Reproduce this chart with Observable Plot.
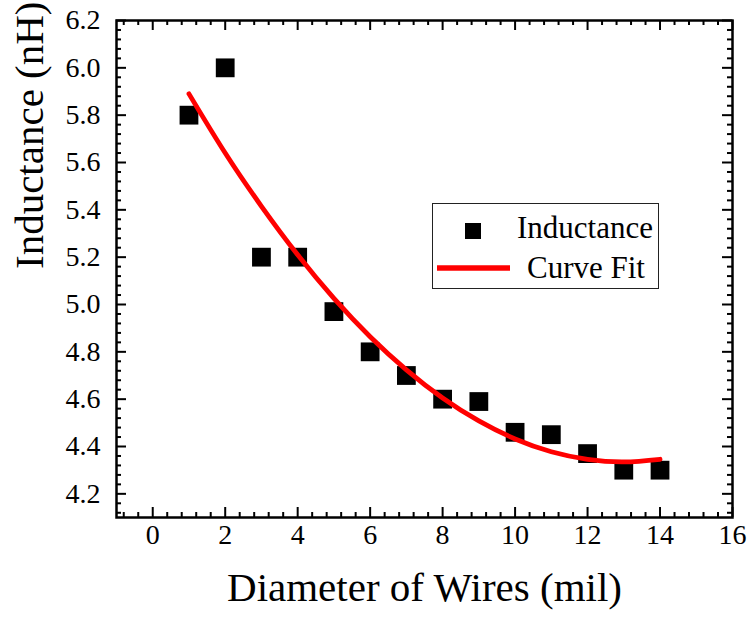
<!DOCTYPE html>
<html><head><meta charset="utf-8">
<script src="https://cdn.jsdelivr.net/npm/d3@7"></script>
<script src="https://cdn.jsdelivr.net/npm/@observablehq/plot@0.6"></script>
</head>
<body style="margin:0;background:#fff">
<div id="wrap" style="position:relative;width:750px;height:622px"></div>
<script>
const diameter = [1,2,3,4,5,6,7,8,9,10,11,12,13,14];
const inductance = [5.80,6.00,5.20,5.20,4.97,4.80,4.70,4.60,4.59,4.46,4.45,4.37,4.30,4.30];
const fitX = [1,2,3,4,5,6,7,8,9,10,11,12,13,14];
const fitY = [5.89,5.64,5.415,5.21,5.026,4.864,4.724,4.605,4.508,4.432,4.378,4.346,4.335,4.346];
const xTickLabels = [0,2,4,6,8,10,12,14,16];
const yTickLabels = [4.2,4.4,4.6,4.8,5.0,5.2,5.4,5.6,5.8,6.0,6.2];

const points = diameter.map((d,i)=>({x:d,y:inductance[i]}));
const fit = fitX.map((d,i)=>({x:d,y:fitY[i]}));

const W=750,H=622,mL=116,mR=18,mT=20,mB=105;
const iw=W-mL-mR, ih=H-mT-mB;
const xMinor = d3.range(-0.8,16.01,0.4).map(v=>+v.toFixed(2)).filter(v=>Math.abs(v/2-Math.round(v/2))>1e-6);
const yMinor = d3.range(4.12,6.201,0.04).map(v=>+v.toFixed(2)).filter(v=>Math.abs(v/0.2-Math.round(v/0.2))>1e-6);
const fs = 28;
const ff = "Liberation Serif";

const chart = Plot.plot({
  width:W,height:H,marginLeft:mL,marginRight:mR,marginTop:mT,marginBottom:mB,
  x:{domain:[-1,16],axis:null},
  y:{domain:[4.1,6.2],axis:null},
  marks:[
    Plot.tickX(xTickLabels,{x:d=>d,insetTop:ih-10,stroke:"#000",strokeWidth:2}),
    Plot.tickX(xMinor,{x:d=>d,insetTop:ih-5,stroke:"#000",strokeWidth:2}),
    Plot.tickX(xTickLabels,{x:d=>d,insetBottom:ih-10,stroke:"#000",strokeWidth:2}),
    Plot.tickX(xMinor,{x:d=>d,insetBottom:ih-5,stroke:"#000",strokeWidth:2}),
    Plot.tickY(yTickLabels,{y:d=>d,insetRight:iw-10,stroke:"#000",strokeWidth:2}),
    Plot.tickY(yMinor,{y:d=>d,insetRight:iw-5,stroke:"#000",strokeWidth:2}),
    Plot.tickY(yTickLabels,{y:d=>d,insetLeft:iw-10,stroke:"#000",strokeWidth:2}),
    Plot.tickY(yMinor,{y:d=>d,insetLeft:iw-5,stroke:"#000",strokeWidth:2}),
    Plot.frame({stroke:"#000",strokeWidth:2.5}),
    Plot.text(xTickLabels,{x:d=>d,frameAnchor:"bottom",dy:26,text:d=>String(d),fontSize:fs,fontFamily:ff,fill:"#000"}),
    Plot.text(yTickLabels,{y:d=>d,frameAnchor:"left",dx:-16,textAnchor:"end",text:d=>d.toFixed(1),fontSize:fs,fontFamily:ff,fill:"#000"}),
    Plot.dot(points,{x:"x",y:"y",symbol:"square",r:10.6,fill:"#000",stroke:"none"}),
    Plot.line(fit,{x:"x",y:"y",stroke:"#ff0000",strokeWidth:4.8,curve:"natural"}),
    Plot.text(["Diameter of Wires (mil)"],{frameAnchor:"bottom",dy:83,fontSize:41,fontFamily:ff,fill:"#000"}),
    Plot.text(["Inductance (nH)"],{frameAnchor:"left",dx:-87,rotate:-90,fontSize:41,fontFamily:ff,fill:"#000"})
  ]
});
const wrap=document.getElementById("wrap");
wrap.appendChild(chart);
const lg=document.createElement("div");
lg.style.cssText="position:absolute;left:432px;top:203px;width:225px;height:84px;border:1.3px solid #222;background:#fff;font-family:'Liberation Serif'";
lg.innerHTML=`<svg width="225" height="84" style="overflow:visible">
<rect x="32" y="19" width="16" height="16" fill="#000"/>
<text x="84" y="34" font-family="Liberation Serif" font-size="31" fill="#000">Inductance</text>
<line x1="4" y1="64" x2="77" y2="64" stroke="#ff0000" stroke-width="5.5"/>
<text x="94" y="74" font-family="Liberation Serif" font-size="31" fill="#000">Curve Fit</text>
</svg>`;
wrap.appendChild(lg);
</script></body></html>
